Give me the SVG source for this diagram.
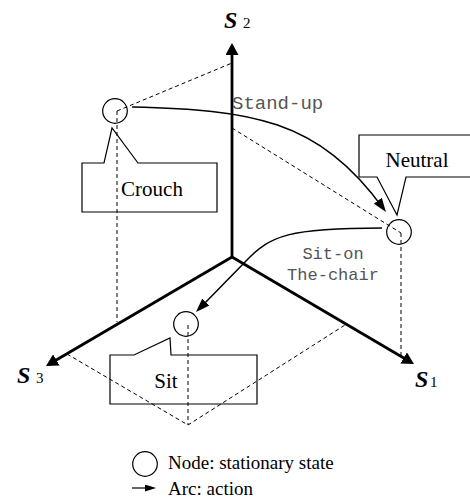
<svg xmlns="http://www.w3.org/2000/svg" width="470" height="501" viewBox="0 0 470 501">
  <style>
    .axis { stroke: #000; stroke-width: 2.8; fill: none; }
    .proj { stroke: #000; stroke-width: 1; stroke-dasharray: 4 3; fill: none; }
    .state { stroke: #000; stroke-width: 1.2; fill: none; }
    .callout { stroke: #000; stroke-width: 1.2; fill: none; stroke-linejoin: miter; }
    .arc { stroke: #000; stroke-width: 1.5; fill: none; }
    .serif { font-family: 'Liberation Serif', 'Times New Roman', serif; }
    .name { font-size: 21px; fill: #000; }
    .act { font-family: 'Liberation Mono', 'Courier New', monospace; fill: #555; }
    .ax { font-size: 24px; font-weight: bold; font-style: italic; fill: #000; }
    .idx { font-size: 15px; fill: #000; }
    .legend { font-size: 19px; fill: #000; }
  </style>
  <defs>
    <marker id="axisHead" markerUnits="userSpaceOnUse" markerWidth="12" markerHeight="13" refX="9" refY="6.5" orient="auto">
      <path d="M0,0 L12,6.5 L0,13 Z" fill="#000"/>
    </marker>
    <marker id="arcHead" markerUnits="userSpaceOnUse" markerWidth="14" markerHeight="10" refX="11" refY="5" orient="auto">
      <path d="M0,0 L14,5 L0,10 Z" fill="#000"/>
    </marker>
    <marker id="keyHead" markerUnits="userSpaceOnUse" markerWidth="11" markerHeight="7" refX="9" refY="3.5" orient="auto">
      <path d="M0,0 L11,3.5 L0,7 Z" fill="#000"/>
    </marker>
  </defs>

  <!-- projection guides of each state onto the axes -->
  <g id="projections">
    <path class="proj" d="M117,111 L232,63"/>
    <path class="proj" d="M117,111 L117,322"/>
    <path class="proj" d="M232,128 L401,233"/>
    <path class="proj" d="M401,233 L401,356"/>
    <path class="proj" d="M188,325 L188,425"/>
    <path class="proj" d="M67,354 L188,425 L345,325"/>
  </g>

  <!-- coordinate axes -->
  <g id="axes" class="serif">
    <path class="axis" d="M232,257 L232,46" marker-end="url(#axisHead)"/>
    <path class="axis" d="M232,257 L411.4,362.5" marker-end="url(#axisHead)"/>
    <path class="axis" d="M232,257 L48.6,364.5" marker-end="url(#axisHead)"/>
    <text class="ax" x="224" y="28">S</text>
    <text class="idx" x="243" y="28">2</text>
    <text class="ax" x="415" y="387">S</text>
    <text class="idx" x="430" y="387">1</text>
    <text class="ax" x="17" y="383">S</text>
    <text class="idx" x="36" y="383">3</text>
  </g>

  <!-- actions between states -->
  <g id="connectors">
    <path class="arc" d="M132,107 C250,110 318,118 384.2,209.6" marker-end="url(#arcHead)"/>
    <text class="act" x="232" y="109" font-size="19">Stand-up</text>
    <path class="arc" d="M382,228 C290,228 270,235 245,262 L198.1,309.9" marker-end="url(#arcHead)"/>
    <text class="act" x="333" y="259" font-size="17" text-anchor="middle">Sit-on</text>
    <text class="act" x="333" y="280" font-size="17" text-anchor="middle">The-chair</text>
  </g>

  <!-- stationary states -->
  <g id="crouch" class="serif">
    <circle class="state" cx="115" cy="111" r="12.3"/>
    <path class="callout" d="M82,163 L104,163 L112,128 L138,163 L217,163 L217,212 L82,212 Z"/>
    <text class="name" x="152" y="196" text-anchor="middle">Crouch</text>
  </g>
  <g id="neutral" class="serif">
    <circle class="state" cx="399" cy="232" r="12.3"/>
    <path class="callout" d="M473,135 L359,135 L359,177 L377,177 L397,215 L406,177 L473,177"/>
    <text class="name" x="417" y="167" text-anchor="middle">Neutral</text>
  </g>
  <g id="sit" class="serif">
    <circle class="state" cx="186" cy="324" r="12.3"/>
    <path class="callout" d="M110,355 L134,355 L170,338 L171,355 L257,355 L257,404 L110,404 Z"/>
    <text class="name" x="166" y="388" text-anchor="middle">Sit</text>
  </g>

  <!-- key -->
  <g id="legend" class="serif">
    <circle class="state" cx="145" cy="464" r="12.3"/>
    <text class="legend" x="168" y="469">Node: stationary state</text>
    <path stroke="#000" stroke-width="1.2" fill="none" d="M132,488 L154,488" marker-end="url(#keyHead)"/>
    <text class="legend" x="168" y="495">Arc: action</text>
  </g>
</svg>
